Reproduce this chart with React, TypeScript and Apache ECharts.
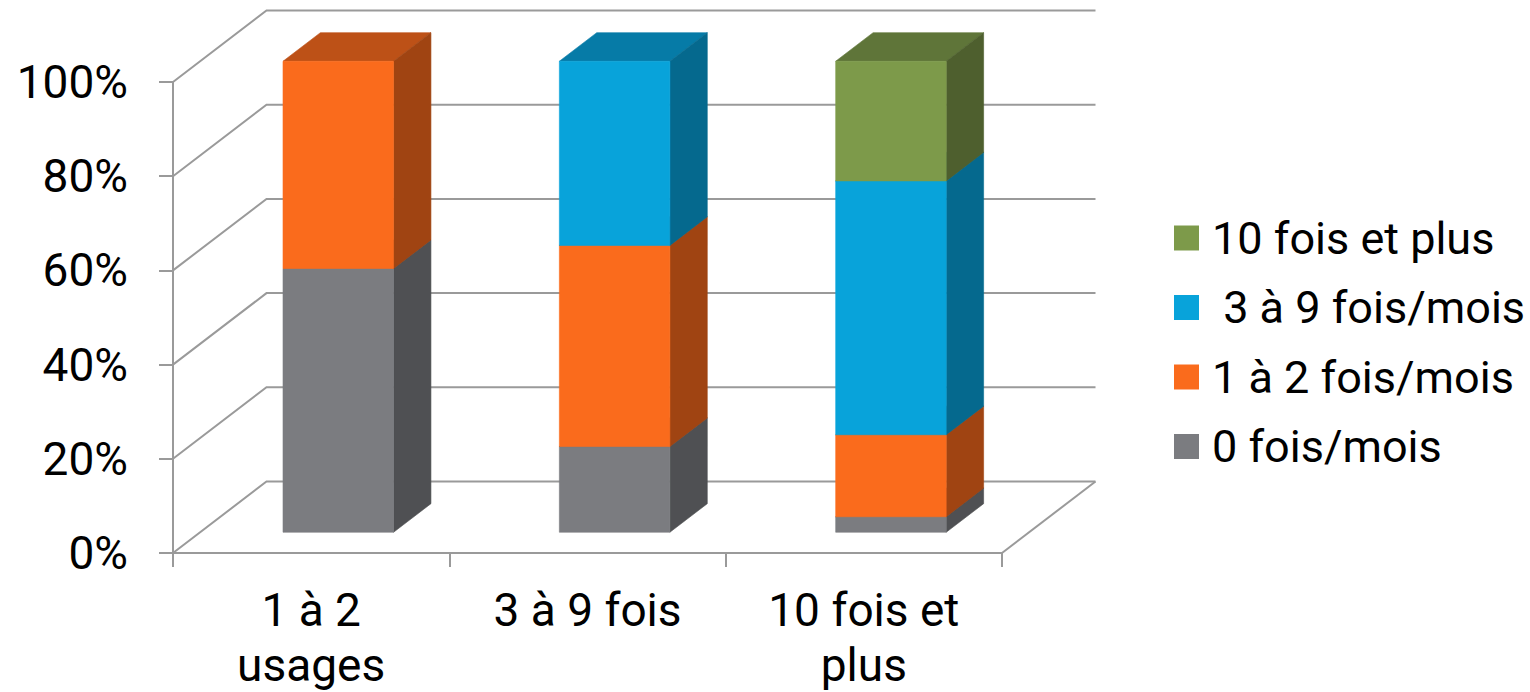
import { useEffect, useRef } from 'react';
import * as echarts from 'echarts';

// Share of respondents (%) per usage group, stacked to 100%.
const CATEGORIES = ['1 à 2\nusages', '3 à 9 fois', '10 fois et\nplus'];
const SERIES_NAMES = ['0 fois/mois', '1 à 2 fois/mois', ' 3 à 9 fois/mois', '10 fois et plus'];
const ZERO_PER_MONTH = [56.0, 18.2, 3.3];
const ONE_TO_TWO_PER_MONTH = [44.0, 42.7, 17.4];
const THREE_TO_NINE_PER_MONTH = [0, 39.1, 53.9];
const TEN_OR_MORE = [0, 0, 25.4];
const Y_TICKS = [0, 20, 40, 60, 80, 100];

const SERIES_VALUES = [ZERO_PER_MONTH, ONE_TO_TWO_PER_MONTH, THREE_TO_NINE_PER_MONTH, TEN_OR_MORE];

// Face colours: front, side, top
const FACES = [
  { front: '#7b7c80', side: '#4f5053', top: '#646568' },
  { front: '#fa6b1c', side: '#a04412', top: '#bd5117' },
  { front: '#08a3da', side: '#05698e', top: '#067ba7' },
  { front: '#7d9a4a', side: '#4e5f2e', top: '#5f7539' },
];

const FONT = 'Roboto, "Liberation Sans", sans-serif';
const WALL = '#9a9a9a';
// Projection of the full floor depth onto the screen
const DEPTH_DX = 93.5;
const DEPTH_DY = -71.5;
// Bar placement along the depth, as fractions of the full depth
const BAR_FRONT = 0.29;
const BAR_DEPTH = 0.4;
const BAR_WIDTH = 0.4;

function buildBarSeries() {
  const bases = CATEGORIES.map(() => 0);
  return SERIES_VALUES.map((values, si) => {
    const data = values.map((v, ci) => {
      const lo = bases[ci];
      const hi = lo + v;
      bases[ci] = hi;
      return [ci, lo, hi, v];
    });
    const face = FACES[si];
    return {
      type: 'custom',
      name: SERIES_NAMES[si],
      itemStyle: { color: face.front },
      encode: { x: 0, y: [1, 2] },
      z: 10 + si,
      data,
      renderItem: (params: any, api: any) => {
        const cat = api.value(0);
        const lo = api.value(1);
        const hi = api.value(2);
        const val = api.value(3);
        if (!(val > 0)) return { type: 'group', children: [] };
        const pLo = api.coord([cat, lo]);
        const pHi = api.coord([cat, hi]);
        const band = api.size([1, 0])[0];
        const w = band * BAR_WIDTH;
        const sx = DEPTH_DX * BAR_FRONT;
        const sy = DEPTH_DY * BAR_FRONT;
        const dx = DEPTH_DX * BAR_DEPTH;
        const dy = DEPTH_DY * BAR_DEPTH;
        const xl = pLo[0] - w / 2 + sx;
        const xr = pLo[0] + w / 2 + sx;
        const yb = pLo[1] + sy;
        const yt = pHi[1] + sy;
        const st = (c: string) => ({ fill: c, stroke: c, lineWidth: 0.6 });
        return {
          type: 'group',
          children: [
            {
              type: 'polygon',
              shape: { points: [[xl, yt], [xr, yt], [xr + dx, yt + dy], [xl + dx, yt + dy]] },
              style: st(face.top),
            },
            {
              type: 'polygon',
              shape: { points: [[xr, yb], [xr + dx, yb + dy], [xr + dx, yt + dy], [xr, yt]] },
              style: st(face.side),
            },
            {
              type: 'rect',
              shape: { x: xl, y: yt, width: xr - xl, height: yb - yt },
              style: st(face.front),
            },
          ],
        };
      },
    };
  });
}

function buildWallSeries() {
  return {
    type: 'custom',
    name: 'walls',
    silent: true,
    z: 1,
    encode: { x: 0, y: 1 },
    data: Y_TICKS.map((v) => [0, v]),
    renderItem: (params: any, api: any) => {
      const cs = params.coordSys;
      const v = api.value(1);
      const y = api.coord([0, v])[1];
      const x0 = cs.x;
      const x1 = cs.x + cs.width;
      const line = { stroke: WALL, lineWidth: 2, fill: 'none' };
      const children: any[] = [
        {
          type: 'polyline',
          shape: { points: [[x0, y], [x0 + DEPTH_DX, y + DEPTH_DY], [x1 + DEPTH_DX, y + DEPTH_DY]] },
          style: line,
        },
      ];
      if (v === 0) {
        children.push({
          type: 'line',
          shape: { x1, y1: y, x2: x1 + DEPTH_DX, y2: y + DEPTH_DY },
          style: line,
        });
      }
      return { type: 'group', children };
    },
  };
}

export default function App() {
  const ref = useRef<HTMLDivElement>(null);

  useEffect(() => {
    if (!ref.current) return;
    const chart = echarts.init(ref.current, undefined, { renderer: 'svg' });
    chart.setOption({
      animation: false,
      backgroundColor: '#ffffff',
      grid: { left: 173, right: 528, top: 82, bottom: 136, containLabel: false },
      legend: {
        orient: 'vertical',
        left: 1169,
        top: 210,
        itemWidth: 25,
        itemHeight: 25,
        itemGap: 23.5,
        icon: 'rect',
        selectedMode: false,
        data: [SERIES_NAMES[3], SERIES_NAMES[2], SERIES_NAMES[1], SERIES_NAMES[0]],
        textStyle: {
          color: '#000',
          fontFamily: FONT,
          fontSize: 45,
          lineHeight: 46,
          padding: [0, 0, 0, 8],
        },
      },
      xAxis: {
        type: 'category',
        data: CATEGORIES,
        axisLine: { show: true, lineStyle: { color: WALL, width: 2 } },
        axisTick: { show: true, length: 14, lineStyle: { color: WALL, width: 2 } },
        axisLabel: {
          color: '#000',
          fontFamily: FONT,
          fontSize: 46,
          lineHeight: 55,
          margin: 29,
          interval: 0,
        },
        splitLine: { show: false },
      },
      yAxis: {
        type: 'value',
        min: 0,
        max: 100,
        interval: 20,
        axisLine: { show: true, lineStyle: { color: WALL, width: 2 } },
        axisTick: { show: true, length: 14, lineStyle: { color: WALL, width: 2 } },
        axisLabel: {
          color: '#000',
          fontFamily: FONT,
          fontSize: 46,
          margin: 45,
          formatter: '{value}%',
        },
        splitLine: { show: false },
      },
      series: [buildWallSeries(), ...buildBarSeries()],
    });
    return () => chart.dispose();
  }, []);

  return (
    <div
      ref={ref}
      style={{ position: 'fixed', left: 0, top: 0, width: 1530, height: 692, background: '#fff' }}
    />
  );
}
